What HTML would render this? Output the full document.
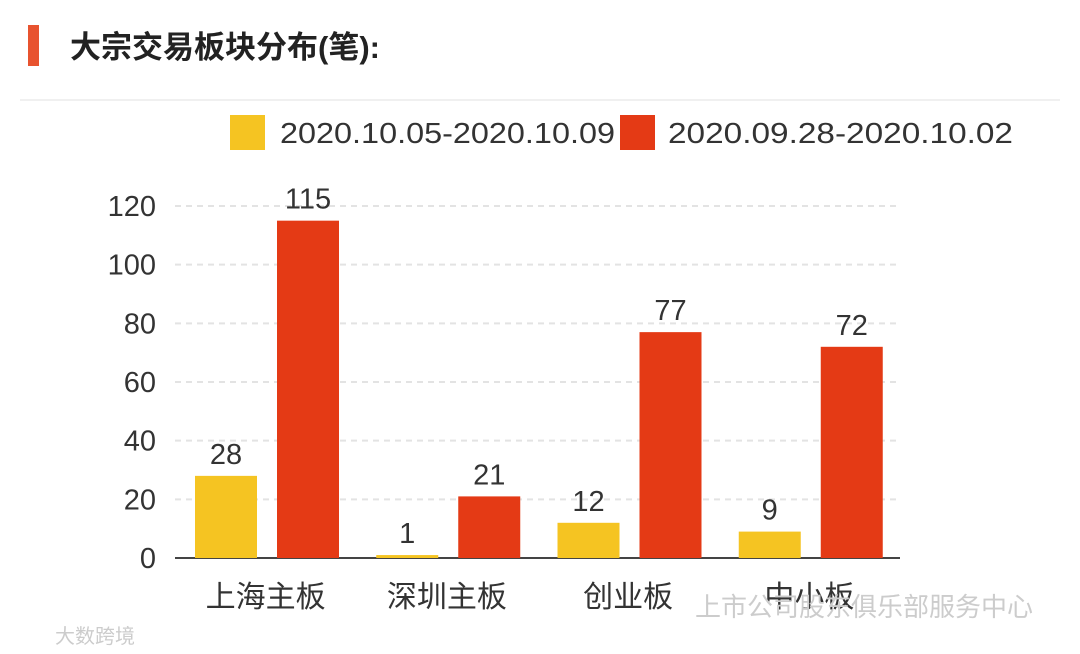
<!DOCTYPE html>
<html><head><meta charset="utf-8">
<style>
body{margin:0;width:1080px;height:654px;background:#fff;overflow:hidden;font-family:"Liberation Sans","Noto Sans CJK SC",sans-serif;}
svg{position:absolute;left:0;top:0}
</style></head>
<body>
<svg width="1080" height="654">
<rect x="28" y="25" width="11" height="41" fill="#e8532f"/>
<text x="70" y="58" font-size="31" font-weight="bold" fill="#222">大宗交易板块分布(笔):</text>
<line x1="20" y1="100" x2="1060" y2="100" stroke="#f0f0f0" stroke-width="2"/>
<rect x="230" y="115" width="35" height="35" fill="#f5c422"/>
<text x="280" y="143" font-size="29" fill="#333" textLength="335" lengthAdjust="spacingAndGlyphs">2020.10.05-2020.10.09</text>
<rect x="620" y="115" width="35" height="35" fill="#e43a15"/>
<text x="668" y="143" font-size="29" fill="#333" textLength="345" lengthAdjust="spacingAndGlyphs">2020.09.28-2020.10.02</text>
<g id="plot"></g>
<text x="695" y="616" font-size="26" fill="#ccc">上市公司股东俱乐部服务中心</text>
<text x="55" y="643" font-size="20" fill="#ccc">大数跨境</text>
</svg>
<script>
const categories=["上海主板","深圳主板","创业板","中小板"];
const seriesA=[28,1,12,9];
const seriesB=[115,21,77,72];
const yTicks=[0,20,40,60,80,100,120];
const NS="http://www.w3.org/2000/svg";
const g=document.getElementById("plot");
const x0=175,x1=900,yBase=558,yTop=206,yMax=120;
const y=v=>yBase-(v/yMax)*(yBase-yTop);
const bw=(x1-x0)/categories.length;
function mk(t,a){const e=document.createElementNS(NS,t);for(const k in a)e.setAttribute(k,a[k]);g.appendChild(e);return e;}
yTicks.forEach(t=>{
  if(t>0){const l=mk("line",{x1:x0,x2:x1,y1:y(t),y2:y(t),stroke:"#e3e3e3","stroke-width":2,"stroke-dasharray":"6,5"});
  
  }
  const tx=mk("text",{x:156,y:y(t)+10,"font-size":29,fill:"#333","text-anchor":"end"});tx.textContent=t;
  
  
});
const ax=mk("line",{x1:x0,x2:x1,y1:yBase,y2:yBase,stroke:"#444","stroke-width":2});


categories.forEach((c,i)=>{
  const gx=x0+i*bw;
  [[seriesA[i],20,"#f5c422"],[seriesB[i],102,"#e43a15"]].forEach(([v,off,col])=>{
    const r=mk("rect",{x:gx+off,y:y(v),width:62,height:yBase-y(v),fill:col});
    
    
    const t=mk("text",{x:gx+off+31,y:y(v)-12,"font-size":29,fill:"#333","text-anchor":"middle"});t.textContent=v;
    
    
  });
  const l=mk("text",{x:gx+bw/2,y:607,"font-size":30,fill:"#333","text-anchor":"middle"});l.textContent=c;
  
  
});
</script>
</body></html>
